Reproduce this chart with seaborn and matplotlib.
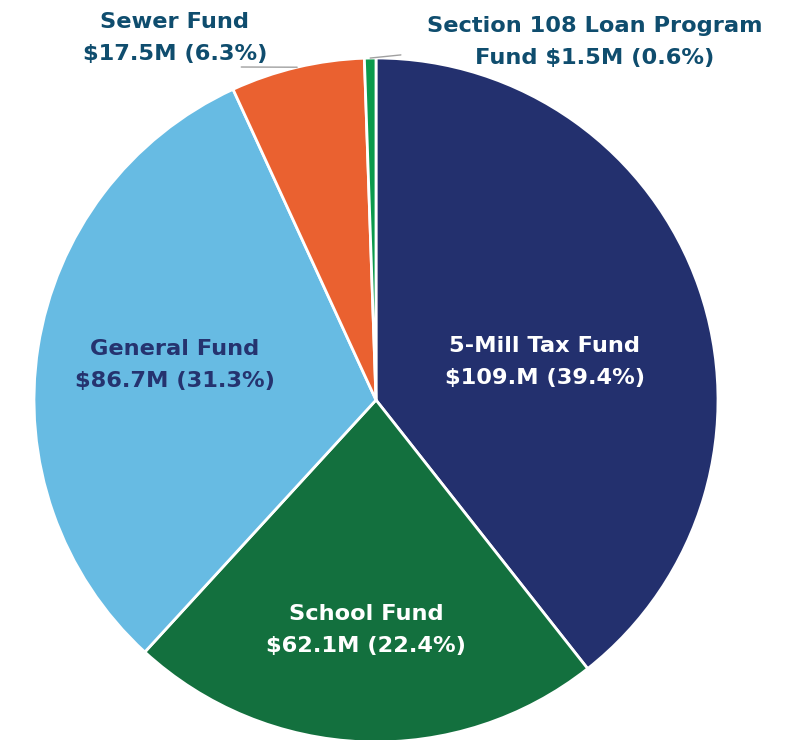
import numpy as np
import matplotlib
matplotlib.use("Agg")
import matplotlib.pyplot as plt
import seaborn as sns

sns.set_theme(style="white")
plt.rcParams['font.family'] = ['DejaVu Sans']

funds = ["5-Mill Tax Fund", "School Fund", "General Fund", "Sewer Fund",
         "Section 108 Loan Program"]
values = [109.0, 62.1, 86.7, 17.5, 1.5]
labels = ["5-Mill Tax Fund\n$109.M (39.4%)",
          "School Fund\n$62.1M (22.4%)",
          "General Fund\n$86.7M (31.3%)",
          "Sewer Fund\n$17.5M (6.3%)",
          "Section 108 Loan Program\nFund $1.5M (0.6%)"]
colors = ["#23306E", "#13703E", "#67BBE3", "#EA6130", "#0B9A4C"]
label_colors = ["white", "white", "#25336F", "#0F4D6E", "#0F4D6E"]

W, H = 791, 740
fig = plt.figure(figsize=(W / 100, H / 100), dpi=100)
cx, cy, r = 376, 400, 342
ax = fig.add_axes([(cx - r) / W, (H - cy - r) / H, 2 * r / W, 2 * r / H])

wedges, _ = ax.pie(values, colors=colors, startangle=90, counterclock=False,
                   radius=1, wedgeprops=dict(edgecolor="white", linewidth=2))
ax.set_xlim(-1, 1)
ax.set_ylim(-1, 1)
ax.set_aspect("equal")
ax.axis("off")

fs = 16.2
ls = 1.72
inside_pos = {0: (0.494, 0.111), 1: (-0.029, -0.673), 2: (-0.588, 0.102)}
for i, (x, y) in inside_pos.items():
    ax.text(x, y, labels[i], ha="center", va="center", color=label_colors[i],
            fontsize=fs, fontweight="bold", linespacing=ls)


def edge_point(w):
    mid = np.deg2rad((w.theta1 + w.theta2) / 2)
    return np.cos(mid), np.sin(mid)


ax.annotate(labels[3], xy=edge_point(wedges[3]), xytext=(-0.588, 1.058),
            textcoords="data", ha="center", va="center",
            color=label_colors[3], fontsize=fs, fontweight="bold",
            linespacing=ls, annotation_clip=False,
            arrowprops=dict(arrowstyle="-", color="#A0A0A0", lw=1,
                            patchA=None, relpos=(0.86, -0.06),
                            shrinkA=0, shrinkB=0))
ax.annotate(labels[4], xy=edge_point(wedges[4]), xytext=(0.640, 1.047),
            textcoords="data", ha="center", va="center",
            color=label_colors[4], fontsize=fs, fontweight="bold",
            linespacing=ls, annotation_clip=False,
            arrowprops=dict(arrowstyle="-", color="#A0A0A0", lw=1,
                            patchA=None, relpos=(0.0, 0.3),
                            shrinkA=19, shrinkB=0))

fig.savefig("out.png", dpi=100)
